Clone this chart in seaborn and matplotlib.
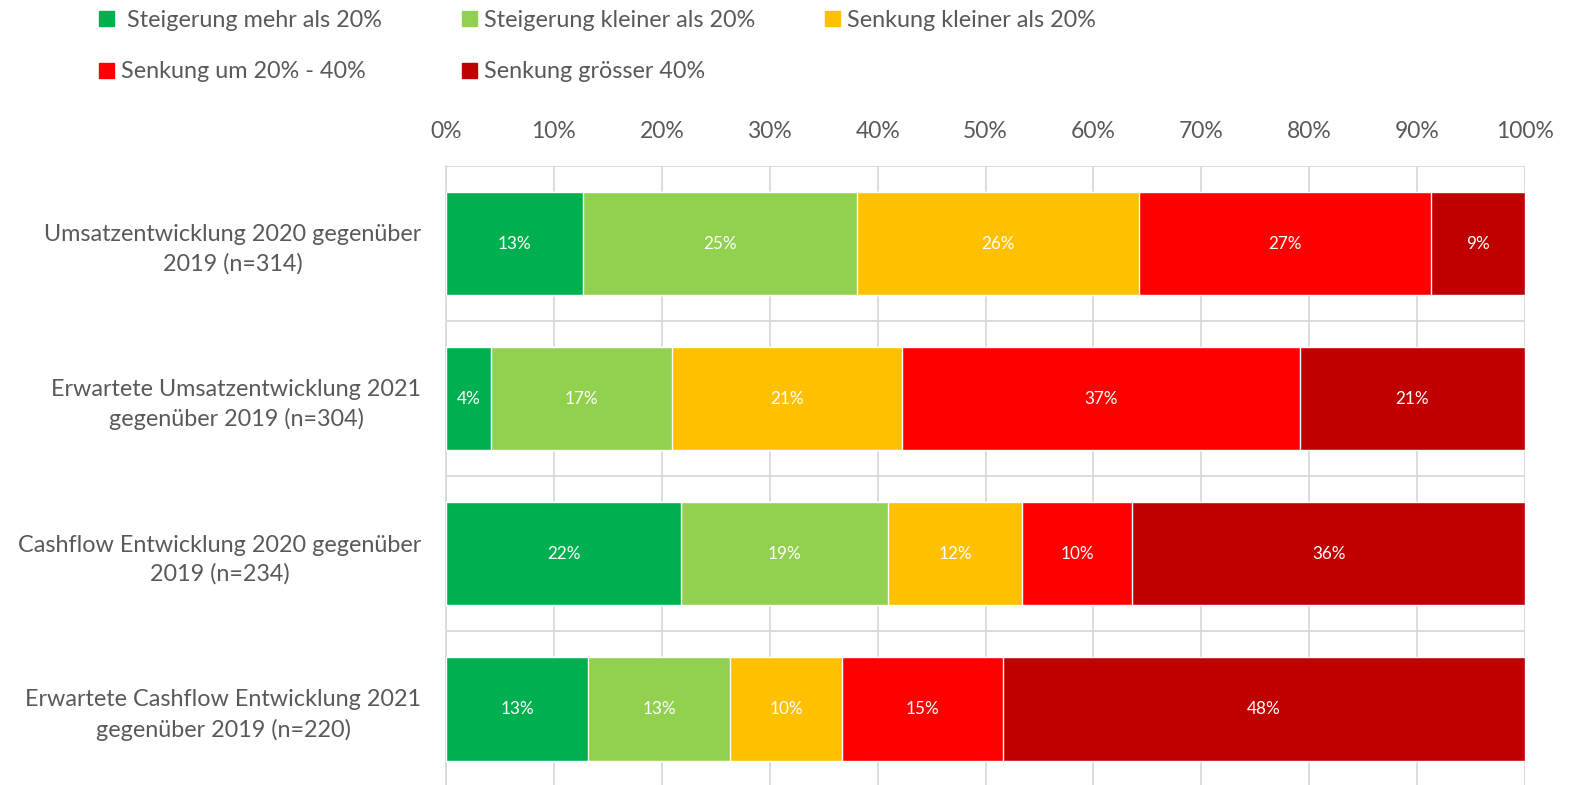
import numpy as np
import pandas as pd
import matplotlib
matplotlib.use("Agg")
import matplotlib.pyplot as plt
import seaborn as sns
from matplotlib.patches import Patch

# data (shares in %)
categories = [
    "Umsatzentwicklung 2020 gegenüber\n2019 (n=314)",
    "Erwartete Umsatzentwicklung 2021\ngegenüber 2019 (n=304)",
    "Cashflow Entwicklung 2020 gegenüber\n2019 (n=234)",
    "Erwartete Cashflow Entwicklung 2021\ngegenüber 2019 (n=220)",
]
series = [
    " Steigerung mehr als 20%",
    "Steigerung kleiner als 20%",
    "Senkung kleiner als 20%",
    "Senkung um 20% - 40%",
    "Senkung grösser 40%",
]
steig_mehr = [12.7, 4.2, 21.8, 13.2]
steig_kleiner = [25.4, 16.7, 19.2, 13.1]
senk_kleiner = [26.1, 21.4, 12.4, 10.4]
senk_20_40 = [27.1, 36.8, 10.2, 14.9]
senk_40 = [8.7, 20.9, 36.4, 48.4]
colors = ["#00B050", "#92D050", "#FFC000", "#FF0000", "#C00000"]
xticks = [0, 10, 20, 30, 40, 50, 60, 70, 80, 90, 100]

sns.set_style("white")
plt.rcParams["font.family"] = ["Lato", "DejaVu Sans"]
grey = "#595959"

vals = np.array([steig_mehr, steig_kleiner, senk_kleiner, senk_20_40, senk_40])
cum = vals.cumsum(axis=0)

fig = plt.figure(figsize=(15.69, 7.85), dpi=100)
ax = fig.add_axes([0.2843, -0.002, 0.6877, 0.7905])

# stacked bars: draw cumulative totals from the right, shorter ones on top
for i in range(len(series) - 1, -1, -1):
    df = pd.DataFrame({"cat": categories, "val": cum[i]})
    sns.barplot(data=df, x="val", y="cat", orient="h", color=colors[i],
                width=0.665, saturation=1, ax=ax, zorder=3)

# value labels
for i in range(len(series)):
    for j in range(len(categories)):
        ax.text(cum[i][j] - vals[i][j] / 2, j, f"{vals[i][j]:.0f}%",
                ha="center", va="center", color="white", fontsize=12.3, zorder=5)

ax.set_xlim(0, 100)
ax.set_ylim(3.5, -0.5)
ax.set_xticks(xticks)
ax.set_xticklabels([f"{t}%" for t in xticks])
ax.xaxis.tick_top()
ax.tick_params(axis="x", length=0, pad=17, labelsize=16.5, labelcolor=grey)
ax.tick_params(axis="y", length=0, pad=18, labelsize=16.8, labelcolor=grey)
for lab in ax.get_yticklabels():
    lab.set_multialignment("center")
    lab.set_linespacing(1.45)
ax.set_xlabel("")
ax.set_ylabel("")

ax.set_yticks([-0.5, 0.5, 1.5, 2.5, 3.5], minor=True)
ax.grid(axis="x", color="#D9D9D9", linewidth=1.3, zorder=0)
ax.grid(axis="y", which="minor", color="#D9D9D9", linewidth=1.3, zorder=0)
ax.set_axisbelow(True)
for s in ["top", "right", "bottom"]:
    ax.spines[s].set_visible(False)
ax.spines["left"].set_color("#D9D9D9")
ax.spines["left"].set_linewidth(1.3)

# legend entries laid out like the original (row-wise, uneven columns)
legend_pos = [(0.0631, 0.9745), (0.2945, 0.9745), (0.5258, 0.9745),
              (0.0631, 0.9083), (0.2945, 0.9083)]
for i, name in enumerate(series):
    leg = fig.legend(handles=[Patch(color=colors[i])], labels=[name],
                     loc="center left", bbox_to_anchor=legend_pos[i],
                     frameon=False, fontsize=16.8, handlelength=0.64,
                     handleheight=0.6, handletextpad=0.3, borderpad=0,
                     borderaxespad=0)
    for t in leg.get_texts():
        t.set_color(grey)

fig.savefig("out.png", dpi=100)
